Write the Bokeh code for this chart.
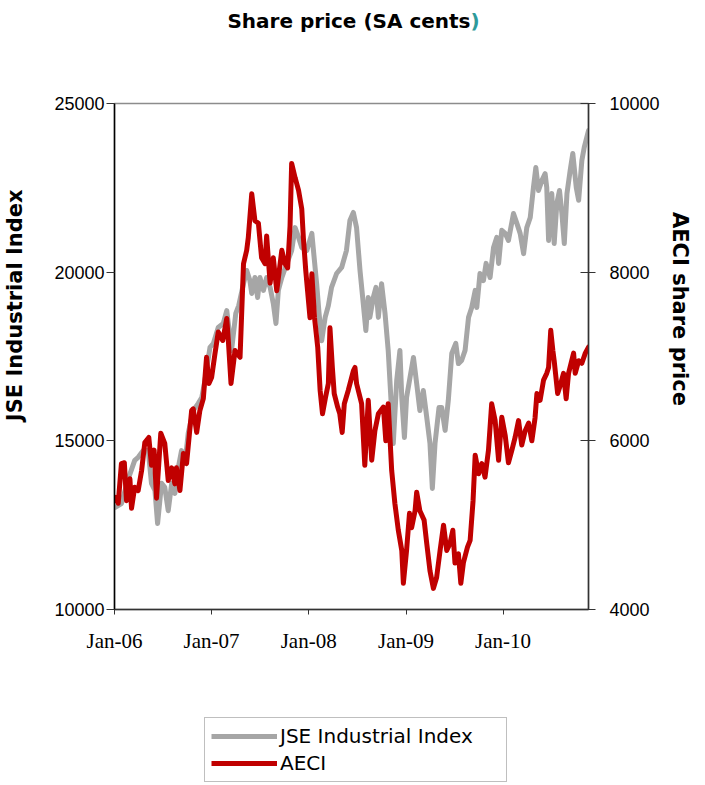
import pandas as pd
from bokeh.plotting import figure
from bokeh.layouts import column
from bokeh.models import (Range1d, LinearAxis, FixedTicker, DatetimeTickFormatter,
                          Legend, LegendItem, Label, ColumnDataSource)
from bokeh.embed import file_html
from bokeh.resources import INLINE

# ---------------- data ----------------
jse_dates = [
    "2006-01-02", "2006-01-27", "2006-02-22", "2006-03-18", "2006-03-31", "2006-04-19",
    "2006-05-08", "2006-05-20", "2006-06-02", "2006-06-12", "2006-06-27", "2006-07-09",
    "2006-07-22", "2006-08-04", "2006-08-16", "2006-08-29", "2006-09-10", "2006-09-23",
    "2006-10-05", "2006-10-24", "2006-11-12", "2006-11-25", "2006-12-07", "2006-12-26",
    "2007-01-08", "2007-01-26", "2007-02-14", "2007-02-27", "2007-03-17", "2007-04-02",
    "2007-04-13", "2007-05-01", "2007-05-13", "2007-05-25", "2007-06-01", "2007-06-13",
    "2007-06-23", "2007-07-02", "2007-07-15", "2007-07-27", "2007-08-09", "2007-08-21",
    "2007-08-31", "2007-09-09", "2007-09-22", "2007-10-11", "2007-10-29", "2007-11-11",
    "2007-11-24", "2007-12-06", "2007-12-25", "2008-01-13", "2008-01-19", "2008-01-31",
    "2008-02-09", "2008-02-19", "2008-03-03", "2008-03-15", "2008-03-27", "2008-04-15",
    "2008-05-04", "2008-05-22", "2008-06-04", "2008-06-17", "2008-06-29", "2008-07-12",
    "2008-07-22", "2008-08-03", "2008-08-12", "2008-08-18", "2008-08-31", "2008-09-10",
    "2008-09-19", "2008-10-01", "2008-10-14", "2008-10-26", "2008-11-05", "2008-11-14",
    "2008-11-27", "2008-12-09", "2008-12-16", "2008-12-26", "2009-01-03", "2009-01-16",
    "2009-01-29", "2009-02-10", "2009-02-22", "2009-03-07", "2009-03-20", "2009-04-01",
    "2009-04-10", "2009-04-20", "2009-05-05", "2009-05-15", "2009-05-28", "2009-06-09",
    "2009-06-22", "2009-07-07", "2009-07-17", "2009-07-29", "2009-08-11", "2009-08-24",
    "2009-09-05", "2009-09-18", "2009-09-24", "2009-10-06", "2009-10-19", "2009-10-29",
    "2009-11-13", "2009-11-26", "2009-12-08", "2009-12-15", "2009-12-27", "2010-01-09",
    "2010-01-21", "2010-02-09", "2010-02-22", "2010-03-06", "2010-03-19", "2010-03-31",
    "2010-04-13", "2010-04-25", "2010-05-04", "2010-05-14", "2010-05-27", "2010-06-08",
    "2010-06-14", "2010-06-21", "2010-07-03", "2010-07-12", "2010-07-22", "2010-08-01",
    "2010-08-10", "2010-08-19", "2010-08-29", "2010-09-10", "2010-09-20", "2010-10-03",
    "2010-10-12", "2010-10-24", "2010-11-02", "2010-11-18",
]
jse_values = [
    13020, 13140, 13880, 14420, 14510, 14710,
    14710, 13740, 13530, 12550, 13740, 13620,
    12930, 13740, 13440, 14210, 14710, 14330,
    15220, 15900, 16110, 16280, 16790, 17770,
    17890, 18360, 18480, 18860, 17680, 18780,
    19010, 19660, 20050, 19750, 19370, 19840,
    19250, 19840, 19460, 19840, 19550, 19070,
    18480, 19460, 19840, 20260, 20640, 21320,
    21030, 20730, 20640, 21150, 20640, 19660,
    18780, 17970, 18660, 19010, 19550, 19960,
    20140, 20640, 21530, 21770, 21320, 20050,
    19250, 18270, 19250, 18660, 19250, 19550,
    18660, 19660, 18780, 17680, 16280, 14920,
    16790, 17680, 16280, 15100, 16280, 16880,
    17470, 16700, 15900, 16490, 15690, 14920,
    13590, 14920, 15990, 15990, 15310, 16200,
    17590, 17890, 17290, 17380, 17680, 18660,
    18950, 19460, 18950, 19960, 19750, 20260,
    19840, 20730, 21030, 20260, 21240, 21150,
    20940, 21740, 21440, 21150, 20550, 21320,
    21620, 22510, 23100, 22420, 22720, 22920,
    22510, 20940, 22330, 20850, 22040, 22420,
    21740, 20850, 22330, 23010, 23520, 22510,
    22130, 23310, 23700, 24200,
]

aeci_dates = [
    "2006-01-02", "2006-01-15", "2006-01-27", "2006-02-07", "2006-02-15", "2006-02-28",
    "2006-03-06", "2006-03-18", "2006-03-31", "2006-04-13", "2006-04-25", "2006-05-10",
    "2006-05-20", "2006-05-30", "2006-06-08", "2006-06-24", "2006-07-09", "2006-07-22",
    "2006-08-04", "2006-08-16", "2006-08-22", "2006-09-04", "2006-09-17", "2006-09-29",
    "2006-10-18", "2006-10-24", "2006-11-06", "2006-11-18", "2006-12-01", "2006-12-13",
    "2006-12-22", "2007-01-01", "2007-01-14", "2007-01-26", "2007-02-12", "2007-02-27",
    "2007-03-05", "2007-03-15", "2007-03-30", "2007-04-18", "2007-05-01", "2007-05-13",
    "2007-05-19", "2007-06-01", "2007-06-13", "2007-06-26", "2007-07-08", "2007-07-21",
    "2007-07-27", "2007-08-09", "2007-08-21", "2007-09-03", "2007-09-22", "2007-10-04",
    "2007-10-14", "2007-10-23", "2007-10-29", "2007-11-11", "2007-11-24", "2007-12-06",
    "2007-12-12", "2007-12-21", "2008-01-06", "2008-01-13", "2008-01-23", "2008-02-04",
    "2008-02-13", "2008-02-22", "2008-03-04", "2008-03-15", "2008-03-21", "2008-03-30",
    "2008-04-06", "2008-04-19", "2008-04-27", "2008-05-06", "2008-05-14", "2008-05-29",
    "2008-06-17", "2008-06-23", "2008-06-29", "2008-07-18", "2008-07-30", "2008-08-12",
    "2008-08-25", "2008-09-06", "2008-09-19", "2008-10-08", "2008-10-17", "2008-10-26",
    "2008-11-08", "2008-11-20", "2008-12-03", "2008-12-16", "2008-12-22", "2009-01-03",
    "2009-01-14", "2009-01-22", "2009-02-04", "2009-02-10", "2009-02-22", "2009-03-10",
    "2009-03-20", "2009-04-01", "2009-04-14", "2009-04-26", "2009-05-09", "2009-05-22",
    "2009-06-03", "2009-06-15", "2009-06-26", "2009-07-04", "2009-07-17", "2009-07-26",
    "2009-08-05", "2009-08-20", "2009-08-30", "2009-09-10", "2009-09-18", "2009-10-01",
    "2009-10-13", "2009-10-25", "2009-11-07", "2009-11-19", "2009-12-02", "2009-12-15",
    "2009-12-27", "2010-01-09", "2010-01-21", "2010-02-03", "2010-02-15", "2010-02-28",
    "2010-03-12", "2010-03-25", "2010-04-07", "2010-04-19", "2010-05-01", "2010-05-08",
    "2010-05-20", "2010-06-02", "2010-06-14", "2010-06-21", "2010-06-29", "2010-07-07",
    "2010-07-12", "2010-07-25", "2010-08-06", "2010-08-16", "2010-08-26", "2010-09-04",
    "2010-09-23", "2010-09-29", "2010-10-12", "2010-10-24", "2010-11-06", "2010-11-18",
]
aeci_values = [
    5330, 5260, 5730, 5740, 5290, 5550,
    5200, 5450, 5410, 5650, 5980, 6040,
    5710, 5890, 5320, 6090, 5970, 5530,
    5680, 5490, 5680, 5410, 5850, 5730,
    6360, 6380, 6100, 6360, 6500, 6990,
    6680, 6750, 7040, 7290, 7190, 7450,
    7190, 6680, 7070, 6990, 8100, 8260,
    8410, 8930, 8610, 8580, 8170, 8100,
    8430, 7870, 8170, 7780, 8260, 8100,
    8050, 8550, 9290, 9120, 8970, 8750,
    8410, 8020, 7460, 7980, 7460, 7110,
    6600, 6320, 6510, 6680, 7340, 6870,
    6560, 6400, 6320, 6100, 6440, 6600,
    6830, 6870, 6680, 6440, 5710, 6480,
    5770, 6120, 6320, 6400, 6000, 6440,
    5650, 5260, 4940, 4700, 4310, 4700,
    5140, 4970, 5170, 5390, 5170, 5060,
    4780, 4460, 4250, 4380, 4700, 5000,
    4700, 4780, 4940, 4550, 4660, 4310,
    4560, 4740, 4820, 5290, 5830, 5610,
    5730, 5570, 5890, 6440, 6240, 5770,
    6280, 6060, 5740, 5890, 6040, 6240,
    5950, 6120, 6210, 6000, 6270, 6560,
    6480, 6720, 6800, 6870, 7310, 7070,
    6950, 6560, 6680, 6800, 6500, 6800,
    7040, 6800, 6950, 6920, 7040, 7110,
]

x_tick_dates = ["2006-01-01", "2007-01-01", "2008-01-01", "2009-01-01", "2010-01-01"]
x_tick_labels = ["Jan-06", "Jan-07", "Jan-08", "Jan-09", "Jan-10"]
left_ticks = [10000, 15000, 20000, 25000]
right_ticks = [4000, 6000, 8000, 10000]

title_main = "Share price (SA cents"
title_close = ")"
left_label = "JSE Industrial Index"
right_label = "AECI share price"
series_names = ["JSE Industrial Index", "AECI"]

GRAY = "#A6A6A6"
RED = "#C00000"
TEAL = "#2E9A9A"
NBSP = "\u00a0"

def to_ms(s):
    return pd.Timestamp(s).value // 10**6

jse_src = ColumnDataSource(dict(x=pd.to_datetime(jse_dates), y=jse_values))
aeci_src = ColumnDataSource(dict(x=pd.to_datetime(aeci_dates), y=aeci_values))

x_start = pd.Timestamp(x_tick_dates[0])
x_end = pd.Timestamp(jse_dates[-1])


def strip(h):
    f = figure(width=689, height=h,
               x_range=Range1d(0, 1), y_range=Range1d(0, 1),
               x_axis_location=None, y_axis_location=None,
               title=None, output_backend="svg", toolbar_location=None,
               min_border_left=0, min_border_right=0,
               min_border_top=0, min_border_bottom=0)
    f.xgrid.visible = False
    f.ygrid.visible = False
    f.outline_line_color = None
    f.background_fill_color = "white"
    f.border_fill_color = "white"
    return f

# ---------------- title strip ----------------
tf = strip(40)
tf.add_layout(Label(x=356, y=20, x_units="screen", y_units="screen", text=title_main,
                    text_align="right", text_baseline="middle", text_font="DejaVu Sans",
                    text_font_style="bold", text_font_size="20px", text_color="black"))
tf.add_layout(Label(x=356, y=20, x_units="screen", y_units="screen", text=title_close,
                    text_align="left", text_baseline="middle", text_font="DejaVu Sans",
                    text_font_style="bold", text_font_size="20px", text_color=TEAL))

# ---------------- main figure ----------------
p = figure(
    width=689, height=629,
    frame_width=474, frame_height=506,
    x_axis_type="datetime",
    x_range=Range1d(x_start, x_end),
    y_range=Range1d(left_ticks[0], left_ticks[-1]),
    title=None,
    output_backend="svg", toolbar_location=None,
    min_border_left=113, min_border_right=102,
    min_border_top=63, min_border_bottom=60,
)
p.extra_y_ranges = {"aeci": Range1d(right_ticks[0], right_ticks[-1])}

p.xgrid.visible = False
p.ygrid.visible = False
p.outline_line_color = "#8C8C8C"
p.outline_line_width = 1.5
p.background_fill_color = "white"
p.border_fill_color = "white"

p.line("x", "y", source=jse_src, line_color=GRAY, line_width=5,
       line_join="round", line_cap="round")
p.line("x", "y", source=aeci_src, line_color=RED, line_width=5,
       line_join="round", line_cap="round", y_range_name="aeci")

# bottom axis
xa = p.below[0]
xa.ticker = FixedTicker(ticks=[to_ms(d) for d in x_tick_dates])
xa.formatter = DatetimeTickFormatter(years="%b-%y", months="%b-%y", days="%b-%y")
xa.major_label_overrides = {to_ms(d): l for d, l in zip(x_tick_dates, x_tick_labels)}
xa.major_label_text_font = "Liberation Serif"
xa.major_label_text_font_size = "21px"
xa.major_label_text_color = "black"
xa.major_tick_in = 0
xa.major_tick_out = 5
xa.minor_tick_out = 0
xa.minor_tick_in = 0
xa.major_label_standoff = 14
xa.axis_line_color = "#333333"
xa.axis_line_width = 1.5
xa.major_tick_line_color = "#333333"

# left axis (label padded with no-break spaces so it sits a little above centre)
ya = p.left[0]
ya.ticker = FixedTicker(ticks=left_ticks)
ya.major_label_text_font = "Liberation Sans"
ya.major_label_text_font_size = "18px"
ya.major_label_text_color = "black"
ya.major_tick_in = 0
ya.major_tick_out = 8
ya.minor_tick_in = 0
ya.minor_tick_out = 0
ya.major_label_standoff = 2
ya.axis_line_color = "black"
ya.axis_line_width = 1.5
ya.major_tick_line_color = "#333333"
ya.axis_label = NBSP * 14 + left_label
ya.axis_label_text_font = "DejaVu Sans"
ya.axis_label_text_font_style = "bold"
ya.axis_label_text_font_size = "21px"
ya.axis_label_text_color = "black"
ya.axis_label_standoff = 24

# right axis
ra = LinearAxis(y_range_name="aeci", ticker=FixedTicker(ticks=right_ticks))
ra.major_label_text_font = "Liberation Sans"
ra.major_label_text_font_size = "18px"
ra.major_label_text_color = "black"
ra.major_tick_in = 8
ra.major_tick_out = 7
ra.minor_tick_in = 0
ra.minor_tick_out = 0
ra.major_label_standoff = 14
ra.axis_line_color = "#333333"
ra.axis_line_width = 1.5
ra.major_tick_line_color = "#333333"
ra.axis_label = right_label + NBSP * 13
ra.axis_label_text_font = "DejaVu Sans"
ra.axis_label_text_font_style = "bold"
ra.axis_label_text_font_size = "21px"
ra.axis_label_text_color = "black"
ra.axis_label_standoff = 5
p.add_layout(ra, "right")

# ---------------- legend strip below the chart ----------------
lg = strip(114)
# legend keys: the same series, styled like the chart (their data lie outside this strip's ranges)
k_jse = lg.line("x", "y", source=jse_src, line_color=GRAY, line_width=5)
k_aeci = lg.line("x", "y", source=aeci_src, line_color=RED, line_width=5)

legend = Legend(
    items=[LegendItem(label=series_names[0], renderers=[k_jse]),
           LegendItem(label=series_names[1], renderers=[k_aeci])],
    location=(90, 1),
    orientation="vertical",
    label_text_font="DejaVu Sans", label_text_font_size="20px", label_text_color="black",
    glyph_width=66, glyph_height=20, label_height=20, label_width=220,
    label_standoff=3, spacing=3, padding=6, margin=0,
    border_line_color="#808080", border_line_width=1,
    background_fill_color="white", background_fill_alpha=1.0,
)
lg.add_layout(legend, "center")

layout = column(tf, p, lg, spacing=0)
open("out.html", "w").write(file_html(layout, INLINE))
